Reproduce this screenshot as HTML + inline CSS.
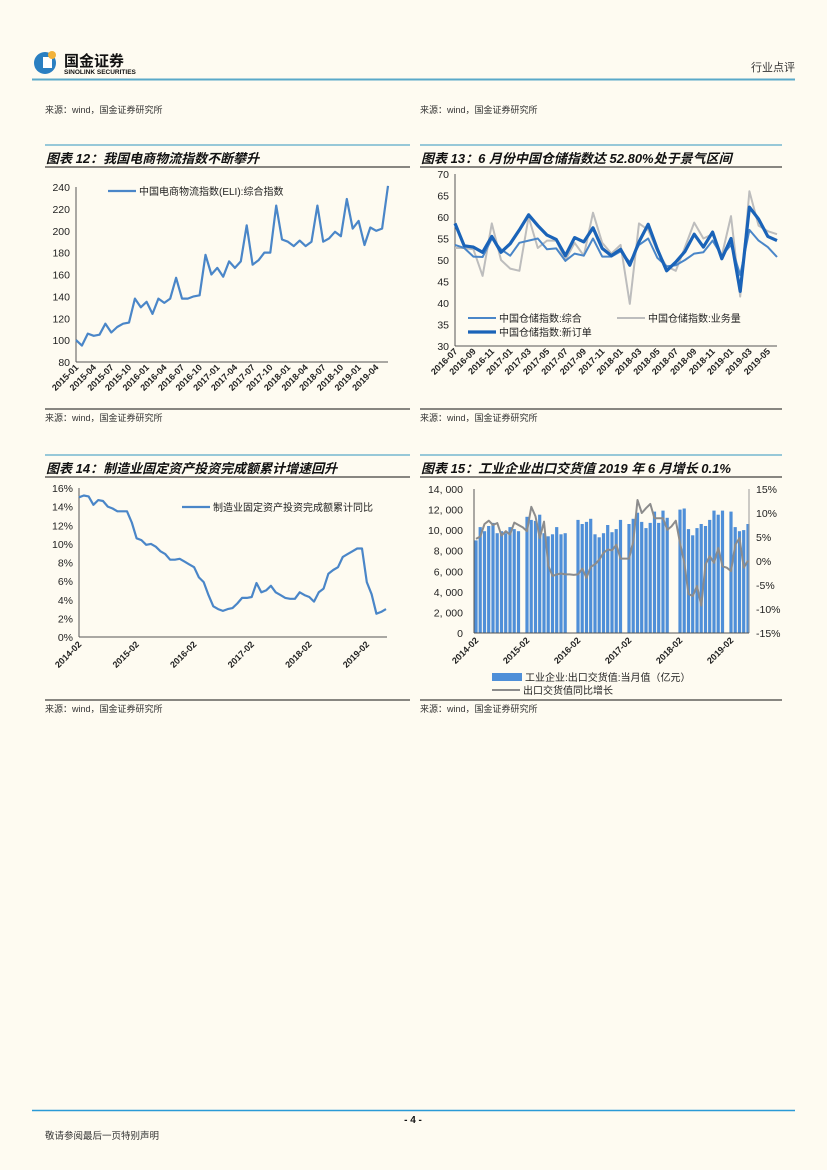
<!DOCTYPE html>
<html><head><meta charset="utf-8">
<style>
html,body{margin:0;padding:0;background:#fefbf1;}
body{width:827px;height:1170px;position:relative;overflow:hidden;font-family:"Liberation Sans","Noto Sans CJK SC",sans-serif;}
svg{position:absolute;left:0;top:0;}
text{font-family:"Liberation Sans","Noto Sans CJK SC",sans-serif;}
</style></head>
<body>
<svg id="pg" width="827" height="1170" viewBox="0 0 827 1170">
  <g>
    <circle cx="45" cy="63" r="11" fill="#2a7fc1"/>
    <rect x="43" y="57" width="9" height="11" fill="#fff"/>
    <circle cx="52" cy="55" r="4" fill="#f2b23a"/>
    <text x="64" y="66" font-size="15" font-weight="bold" fill="#111">国金证券</text>
    <text x="64" y="74" font-size="6.5" font-weight="bold" fill="#111">SINOLINK SECURITIES</text>
    <text x="795" y="71" font-size="11" fill="#333" text-anchor="end">行业点评</text>
    <line x1="32" y1="79.5" x2="795" y2="79.5" stroke="#5aa9c9" stroke-width="2"/>
    <text x="45" y="113" font-size="9" fill="#333">来源：wind，国金证券研究所</text>
    <text x="420" y="113" font-size="9" fill="#333">来源：wind，国金证券研究所</text>
  </g>
  <g id="c12"></g>
  <g id="c13"></g>
  <g id="c14"></g>
  <g id="c15"></g>
  <g>
    <line x1="32" y1="1110.5" x2="795" y2="1110.5" stroke="#2a9ad6" stroke-width="1.5"/>
    <text x="413" y="1123" font-size="10" font-weight="bold" text-anchor="middle" fill="#111">- 4 -</text>
    <text x="45" y="1139" font-size="9.5" fill="#333">敬请参阅最后一页特别声明</text>
  </g>
</svg>
<script>
// ---- Chart 12 data ----
const c12Labels = ["2015-01","2015-04","2015-07","2015-10","2016-01","2016-04","2016-07","2016-10","2017-01","2017-04","2017-07","2017-10","2018-01","2018-04","2018-07","2018-10","2019-01","2019-04"];
const c12Values = [100,95,106,104,105,115,107,112,115,116,138,130,135,124,138,134,138,157,138,138,140,141,178,160,166,158,172,166,172,205,169,173,180,180,223,192,190,186,191,186,190,223,190,193,199,195,229,202,209,187,203,200,202,241];
const c12Ticks = [80,100,120,140,160,180,200,220,240];
// ---- Chart 13 data ----
const c13Labels = ["2016-07","2016-09","2016-11","2017-01","2017-03","2017-05","2017-07","2017-09","2017-11","2018-01","2018-03","2018-05","2018-07","2018-09","2018-11","2019-01","2019-03","2019-05"];
const c13Total = [53.5,52.8,50.8,50.7,55,52.5,51,54,54.5,55,52.5,52.7,49.8,51.5,51,55,50.8,50.8,52,49.5,53.5,55,50.5,48.5,48.8,50,51.5,51.8,54.5,51,53.5,46.5,57,54.5,53,50.7];
const c13Volume = [52.8,52.8,52.5,46.3,58.5,50,48,47.5,60,52.8,54.5,54.5,50,54,51,61,54,51.5,53.5,39.8,58.5,57,52,48.5,47.5,53,58.7,55,56,51,60.2,41.5,66,58,56.7,56];
const c13Orders = [58.5,53.3,53,51.8,55.5,51.8,53.8,57,60.5,58,55.8,54.8,51,55.2,54.2,57.5,52.7,51,52.5,48.8,54.2,58.3,52.5,47.5,49.5,52,56,53,56.5,50.3,55,42.7,62.3,59.5,55.5,54.5];
const c13Ticks = [30,35,40,45,50,55,60,65,70];
// ---- Chart 14 data ----
const c14Labels = ["2014-02","2015-02","2016-02","2017-02","2018-02","2019-02"];
const c14Values = [15.0,15.2,15.1,14.2,14.7,14.6,14.0,13.8,13.5,13.5,13.5,12.3,10.6,10.4,9.9,10.0,9.7,9.2,8.9,8.3,8.3,8.4,8.1,7.8,7.5,6.4,5.9,4.5,3.3,3.0,2.8,3.0,3.1,3.6,4.2,4.2,4.3,5.8,4.8,5.0,5.5,4.8,4.5,4.2,4.1,4.1,4.8,4.5,4.3,3.8,4.8,5.2,6.8,7.2,7.5,8.6,8.9,9.2,9.5,9.5,5.9,4.6,2.5,2.7,3.0];
const c14Ticks = [0,2,4,6,8,10,12,14,16];
// ---- Chart 15 data ----
const c15Labels = ["2014-02","2015-02","2016-02","2017-02","2018-02","2019-02"];
const c15Bars = [9000,10300,9900,10400,10700,9700,9900,9700,10300,10100,9900,0,11300,11000,10900,11500,9700,9400,9600,10300,9600,9700,0,0,11000,10600,10800,11100,9600,9300,9700,10500,9800,10100,11000,0,10600,11100,11700,10800,10200,10700,11800,10700,11900,11200,0,0,12000,12100,10100,9500,10200,10600,10400,11000,11900,11500,11900,0,11800,10300,9900,10000,10600];
const c15Yoy = [4.6,5.1,7.7,8.4,7.5,7.9,5.3,6.2,5.5,8.0,7.5,7.0,6.2,11.3,9.3,4.8,8.2,-1,-3.1,-2.8,-2.6,-2.8,-2.8,-2.9,-2.8,-1.6,-3.5,-1.2,-0.7,0.3,1.7,2.4,2.2,3.4,0.5,0.5,0.5,4.1,12.7,10.0,11.0,11.9,8.9,8.9,8.9,6.5,7.2,8.4,3.8,-0.4,-6.9,-7.3,-5.2,-9.3,-0.7,1.0,-0.4,2.7,-1.1,-1.4,-2.1,3.4,4.8,-1.4,0.1];
const c15LeftTicks = [0,2000,4000,6000,8000,10000,12000,14000];
const c15LeftTickText = ["0","2, 000","4, 000","6, 000","8, 000","10, 000","12, 000","14, 000"];
const c15RightTicks = [-15,-10,-5,0,5,10,15];

const NS = "http://www.w3.org/2000/svg";
function mk(parent, tag, attrs, txt){
  const e = document.createElementNS(NS, tag);
  for (const k in attrs) e.setAttribute(k, attrs[k]);
  if (txt !== undefined) e.textContent = txt;
  parent.appendChild(e);
  return e;
}
function scale(d0,d1,r0,r1){ return v => r0 + (v-d0)/(d1-d0)*(r1-r0); }

function panel(g, x0, x1, yTop, title, yTitleRule){
  let e = mk(g,"line",{x1:x0,y1:yTop,x2:x1,y2:yTop,stroke:"#5aa9c9","stroke-width":1.2});
  
  
  e = mk(g,"text",{x:x0+1,y:yTop+18,"font-size":13,"font-weight":"bold","font-style":"italic",fill:"#111"},title);
  
  
  e = mk(g,"line",{x1:x0,y1:yTitleRule,x2:x1,y2:yTitleRule,stroke:"#111","stroke-width":1});
  
  
}
function bottom(g, x0, x1, y, srcY){
  let e = mk(g,"line",{x1:x0,y1:y,x2:x1,y2:y,stroke:"#111","stroke-width":1});
  
  
  e = mk(g,"text",{x:x0,y:srcY,"font-size":9,fill:"#333"},"来源：wind，国金证券研究所");
  
  
}
function yAxis(g, xs, ys, ticks, fmt, anchorX, anchor){
  let e = mk(g,"line",{x1:xs,y1:ys(ticks[0]),x2:xs,y2:ys(ticks[ticks.length-1]),stroke:"#555","stroke-width":1});
  
  
  ticks.forEach((t,i)=>{
    const tl = mk(g,"text",{x:anchorX,y:ys(t)+4,"font-size":10.5,fill:"#222","text-anchor":anchor||"end"},fmt(t,i));
    
    
  });
}
function xLabels(g, labels, xs, y){
  labels.forEach(l=>{
    const x = xs(l);
    const t = mk(g,"text",{x:x+3,y:y,"font-size":9,"font-weight":"bold",fill:"#222","text-anchor":"end",transform:"rotate(-45 "+(x+3)+" "+y+")"},l);
    
    
  });
}
function line(g, vals, xs, ys, color, w, name){
  const d = vals.map((v,i)=>(i?"L":"M")+xs(i).toFixed(1)+" "+ys(v).toFixed(1)).join(" ");
  const p = mk(g,"path",{d:d,fill:"none",stroke:color,"stroke-width":w,"stroke-linejoin":"round"});
  
  
}
function legend(g, x, y, color, w, text){
  const l = mk(g,"line",{x1:x,y1:y,x2:x+28,y2:y,stroke:color,"stroke-width":w});
  
  
  const t = mk(g,"text",{x:x+31,y:y+4,"font-size":10,fill:"#222"},text);
  
  
}

// Chart 12
(function(){
  const g = document.getElementById("c12");
  panel(g,45,410,145,"图表 12：我国电商物流指数不断攀升",167);
  const xs = scale(0,c12Values.length-1,76,388);
  const ys = scale(80,240,362,187);
  yAxis(g,76,ys,c12Ticks,t=>t,70);
  const ax = mk(g,"line",{x1:76,y1:362,x2:388,y2:362,stroke:"#555"});
  
  
  xLabels(g,c12Labels,l=>xs(c12Labels.indexOf(l)*3),368);
  line(g,c12Values,xs,ys,"#4a86c8",2.2,"eli-line");
  legend(g,108,191,"#4a86c8",2.2,"中国电商物流指数(ELI):综合指数");
  bottom(g,45,410,409,421);
})();
// Chart 13
(function(){
  const g = document.getElementById("c13");
  panel(g,420,782,145,"图表 13：6 月份中国仓储指数达 52.80%处于景气区间",167);
  const xs = scale(0,c13Total.length-1,455,777);
  const ys = scale(30,70,346,174);
  yAxis(g,455,ys,c13Ticks,t=>t,449);
  const ax = mk(g,"line",{x1:455,y1:346,x2:777,y2:346,stroke:"#555"});
  
  
  xLabels(g,c13Labels,l=>xs(c13Labels.indexOf(l)*2),352);
  line(g,c13Volume,xs,ys,"#bdbdbd",2,"volume-line");
  line(g,c13Total,xs,ys,"#4a86c8",2,"composite-line");
  line(g,c13Orders,xs,ys,"#1a63b8",3.2,"new-orders-line");
  legend(g,468,318,"#4a86c8",2,"中国仓储指数:综合");
  legend(g,617,318,"#bdbdbd",2,"中国仓储指数:业务量");
  legend(g,468,332,"#1a63b8",3.2,"中国仓储指数:新订单");
  bottom(g,420,782,409,421);
})();
// Chart 14
(function(){
  const g = document.getElementById("c14");
  panel(g,45,410,455,"图表 14：制造业固定资产投资完成额累计增速回升",477);
  const xs = scale(0,c14Values.length-1,79,386);
  const ys = scale(0,16,637,488);
  yAxis(g,79,ys,c14Ticks,t=>t+"%",73);
  const ax = mk(g,"line",{x1:79,y1:637,x2:387,y2:637,stroke:"#555"});
  
  
  xLabels(g,c14Labels,l=>xs(c14Labels.indexOf(l)*12),645);
  line(g,c14Values,xs,ys,"#4a86c8",2.2,"investment-growth-line");
  legend(g,182,507,"#4a86c8",2.2,"制造业固定资产投资完成额累计同比");
  bottom(g,45,410,700,712);
})();
// Chart 15
(function(){
  const g = document.getElementById("c15");
  panel(g,420,782,455,"图表 15：工业企业出口交货值 2019 年 6 月增长 0.1%",477);
  const n = c15Bars.length;
  const xs = scale(0,n-1,476,748);
  const yl = scale(0,14000,633,489);
  const yr = scale(-15,15,633,489);
  c15Bars.forEach((v,i)=>{
    if(!v) return;
    const r = mk(g,"rect",{x:(xs(i)-1.6).toFixed(1),y:yl(v).toFixed(1),width:3.2,height:(633-yl(v)).toFixed(1),fill:"#4f8fd8"});
    
    
  });
  yAxis(g,474,yl,c15LeftTicks,(t,i)=>c15LeftTickText[i],463);
  const ra = mk(g,"line",{x1:749,y1:489,x2:749,y2:633,stroke:"#999","stroke-width":1});
  
  
  c15RightTicks.forEach(t=>{
    const tl = mk(g,"text",{x:756,y:yr(t)+4,"font-size":10.5,fill:"#222"},t+"%");
    
    
  });
  const ax = mk(g,"line",{x1:474,y1:633,x2:749,y2:633,stroke:"#555"});
  
  
  xLabels(g,c15Labels,l=>xs(c15Labels.indexOf(l)*12),641);
  line(g,c15Yoy,xs,yr,"#8c8c8c",2,"yoy-line");
  const sw = mk(g,"rect",{x:492,y:673,width:30,height:8,fill:"#4f8fd8"});
  
  
  const t1 = mk(g,"text",{x:525,y:681,"font-size":10,fill:"#222"},"工业企业:出口交货值:当月值（亿元）");
  
  
  legend(g,492,690,"#8c8c8c",2,"出口交货值同比增长");
  bottom(g,420,782,700,712);
})();
</script>
</body></html>
